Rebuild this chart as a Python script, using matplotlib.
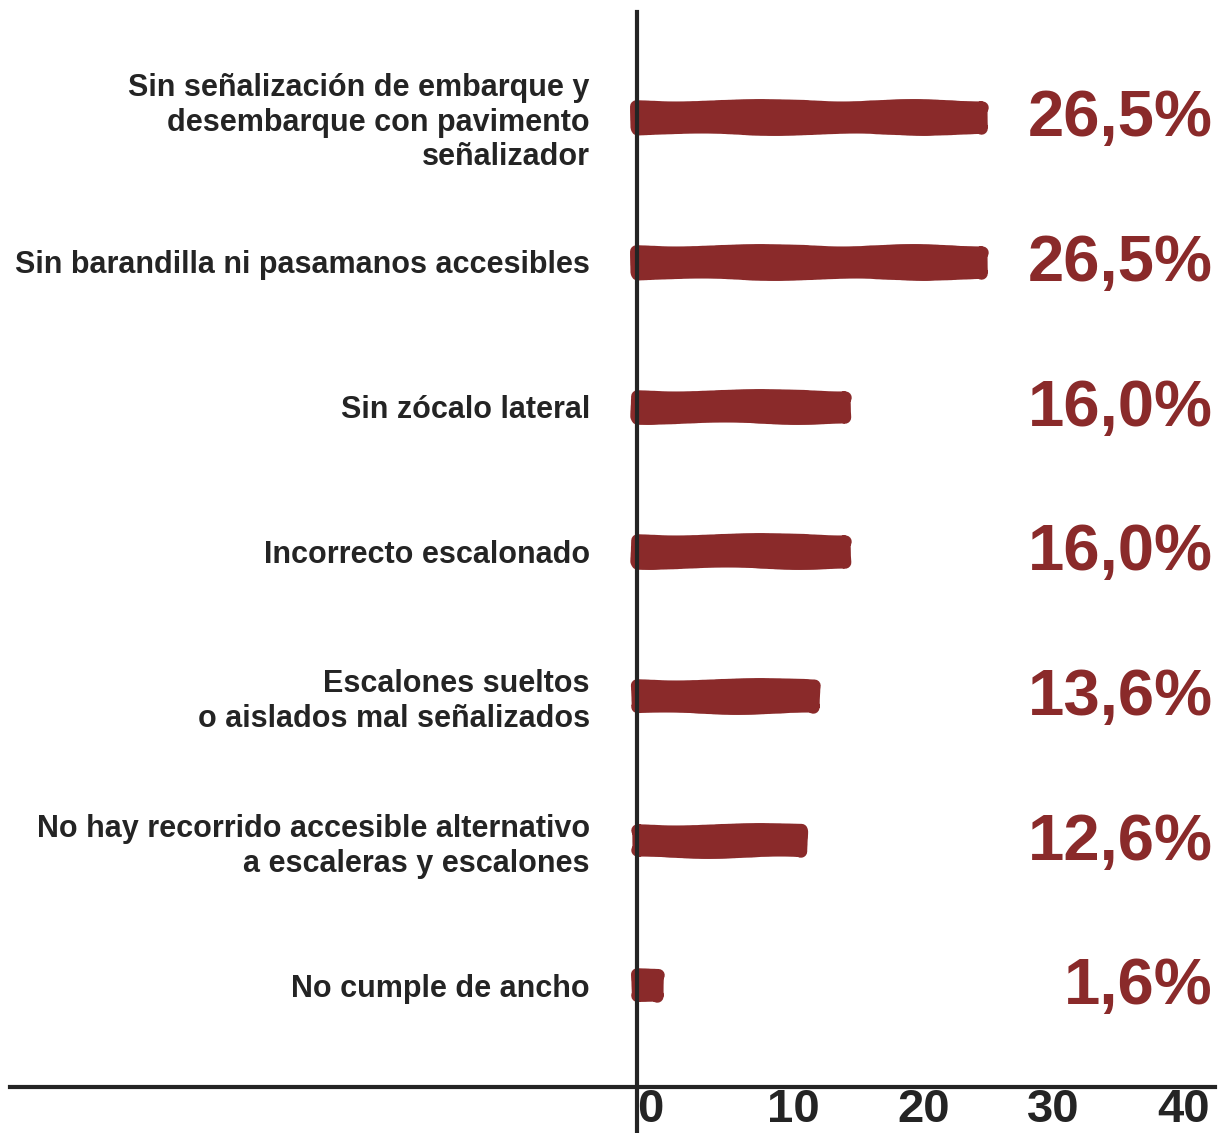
import matplotlib
matplotlib.use("Agg")
import matplotlib.pyplot as plt

# ---------------------------
# Datos
# ---------------------------
categorias = [
    "Sin señalización de embarque y\ndesembarque con pavimento\nseñalizador",
    "Sin barandilla ni pasamanos accesibles",
    "Sin zócalo lateral",
    "Incorrecto escalonado",
    "Escalones sueltos\no aislados mal señalizados",
    "No hay recorrido accesible alternativo\na escaleras y escalones",
    "No cumple de ancho",
]
porcentajes = [26.5, 26.5, 16.0, 16.0, 13.6, 12.6, 1.6]
ticks_x = [0, 10, 20, 30, 40]

# ---------------------------
# Estilo
# ---------------------------
ROJO = "#8a2a2a"
NEGRO = "#242424"
plt.rcParams["font.family"] = ["Liberation Sans", "DejaVu Sans"]
plt.rcParams["font.weight"] = "bold"

W, H, DPI = 1221, 1133, 100
fig = plt.figure(figsize=(W / DPI, H / DPI), dpi=DPI)

# ejes en píxeles: x de 10 a 1215, y de 12 a 1133 (arriba->abajo)
ax = fig.add_axes([10 / W, 0, 1205 / W, 1121 / H])

px_x = 13.0      # píxeles por unidad en x
x0_px = 637      # posición del eje vertical
py = 144.7       # píxeles entre categorías
y0_px = 117      # centro de la primera categoría

ax.set_xlim((10 - x0_px) / px_x, (1215 - x0_px) / px_x)
ax.set_ylim((1133 - y0_px) / py, (12 - y0_px) / py)

# barras con aspecto de pincelada
ypos = list(range(len(categorias)))
bars = ax.barh(ypos, porcentajes, height=0.15, color=ROJO,
               edgecolor=ROJO, linewidth=9, joinstyle="round", zorder=2)
for b in bars:
    b.set_sketch_params(scale=1.2, length=220, randomness=4)

# etiquetas de valor
for y, v in zip(ypos, porcentajes):
    ax.text((1213 - x0_px) / px_x, y - 0.03, f"{v:.1f}".replace(".", ",") + "%",
            ha="right", va="center_baseline", color=ROJO, fontsize=47,
            fontweight="bold")

# ejes cruzados
for s in ["top", "right"]:
    ax.spines[s].set_visible(False)
ax.spines["left"].set_position(("data", 0))
ax.spines["bottom"].set_position(("data", (1087 - y0_px) / py))
for s in ["left", "bottom"]:
    ax.spines[s].set_linewidth(3)
    ax.spines[s].set_color(NEGRO)
    ax.spines[s].set_zorder(3)

ax.set_yticks(ypos)
ax.set_yticklabels(categorias, fontsize=22, fontweight="bold", color=NEGRO)
ax.tick_params(axis="y", length=0, pad=34)

ax.set_xticks(ticks_x)
ax.set_xticklabels([str(t) for t in ticks_x], fontsize=34,
                   fontweight="bold", color=NEGRO)
ax.tick_params(axis="x", length=0, pad=1)
for lbl in ax.get_xticklabels():
    lbl.set_ha("left")

fig.savefig("out.png", dpi=DPI)
